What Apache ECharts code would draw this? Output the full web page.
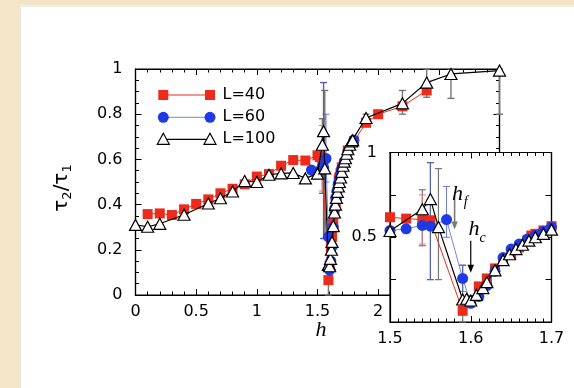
<!DOCTYPE html>
<html><head><meta charset="utf-8">
<script src="https://cdn.jsdelivr.net/npm/echarts@6/dist/echarts.min.js"></script>
<style>
html,body{margin:0;padding:0;width:574px;height:388px;overflow:hidden;background:#f3e5c6;}
#panel{position:absolute;left:19px;top:5px;width:555px;height:383px;background:#fff;border-left:2px solid #e6e6e6;border-top:2px solid #ececec;box-sizing:border-box;}
#chart{position:absolute;left:0;top:0;width:574px;height:388px;}
</style></head><body><div id="panel"></div><div id="chart"></div>
<script>
// ---- data: [h, tau2/tau1] ----
const L40 = [[0.1,0.358],[0.2,0.361],[0.3,0.354],[0.4,0.379],[0.5,0.403],[0.6,0.423],[0.7,0.45],[0.8,0.47],[0.9,0.49],[1.0,0.524],[1.1,0.535],[1.2,0.572],[1.3,0.597],[1.4,0.595],[1.5,0.618],[1.52,0.61],[1.54,0.604],[1.55,0.60],[1.59,0.066],[1.60,0.13],[1.61,0.21],[1.62,0.257],[1.63,0.316],[1.64,0.36],[1.65,0.40],[1.66,0.44],[1.67,0.48],[1.675,0.51],[1.68,0.52],[1.69,0.54],[1.70,0.565],[1.75,0.64],[1.8,0.68],[1.9,0.762],[2.0,0.80],[2.2,0.835],[2.4,0.905]];
const L60 = [[1.45,0.553],[1.5,0.54],[1.52,0.55],[1.54,0.57],[1.55,0.565],[1.57,0.604],[1.59,0.257],[1.60,0.11],[1.61,0.15],[1.62,0.215],[1.63,0.30],[1.64,0.38],[1.65,0.43],[1.66,0.46],[1.67,0.49],[1.68,0.51],[1.69,0.535],[1.70,0.56],[1.72,0.59],[1.75,0.635],[1.8,0.685]];
const L100 = [[0,0.31],[0.1,0.302],[0.2,0.315],[0.4,0.355],[0.6,0.405],[0.7,0.428],[0.8,0.458],[0.9,0.504],[1.0,0.50],[1.1,0.532],[1.2,0.538],[1.3,0.54],[1.4,0.516],[1.5,0.537],[1.54,0.665],[1.55,0.725],[1.56,0.56],[1.59,0.133],[1.595,0.137],[1.60,0.127],[1.607,0.16],[1.615,0.2],[1.62,0.235],[1.63,0.305],[1.64,0.365],[1.648,0.40],[1.656,0.43],[1.664,0.456],[1.672,0.48],[1.68,0.50],[1.69,0.52],[1.70,0.545],[1.71,0.572],[1.72,0.59],[1.73,0.605],[1.74,0.625],[1.75,0.645],[1.765,0.665],[1.78,0.68],[1.79,0.685],[1.9,0.783],[2.2,0.848],[2.4,0.94],[2.6,0.978],[3.0,0.993]];
// error bars: [h, low, high]
const ERR100 = [[1.54,0.45,0.78],[1.55,0.25,0.94],[1.56,0.25,0.905],[1.59,0.0,0.335],[1.9,0.765,0.80],[2.2,0.80,0.905],[2.4,0.875,1.0],[2.6,0.87,1.0],[3.0,0.8,1.0]];
const ERR60 = [[1.55,0.25,0.94],[1.57,0.5,0.80],[1.59,0.18,0.335]];
const ERR40 = [[1.54,0.46,0.75]];
// arrows: [h, vStart, vEnd]
const ARROWS = [[1.58,0.745,0.545],[1.60,0.48,0.29]];
const ARROW_COLORS = ['#7a7a7a','#000'];
const LEGEND = ['L=40','L=60','L=100'];

const RED='#ee2b1b', BLUE='#1d3ae6';
const FONT='DejaVu Sans';
const chart = echarts.init(document.getElementById('chart'), null, {renderer:'canvas'});

function inInset(d){ return d[0] >= 1.5-1e-9 && d[0] <= 1.7+1e-9; }

function xAx(grid, pos, min, max, interval, split, labels, fmt, z){
  return {type:'value', gridIndex:grid, position:pos, min:min, max:max, interval:interval, z:z,
    axisLine:{show:true, onZero:false, lineStyle:{color:'#000', width:1.2}},
    axisTick:{show:true, inside:true, length:6, lineStyle:{color:'#000', width:1}},
    minorTick:{show:split>1, splitNumber:split, length:3.5, lineStyle:{color:'#000', width:1}},
    splitLine:{show:false}, minorSplitLine:{show:false},
    axisLabel:{show:labels, margin:9, color:'#000', fontSize:16, fontFamily:FONT, formatter:fmt}};
}
function yAx(grid, pos, min, max, interval, split, labels, fmt, z){
  const a = xAx(grid, pos, min, max, interval, split, labels, fmt, z);
  a.axisLabel.margin = 13;
  return a;
}

function errSeries(data, xi, yi, color, width, z){
  return {type:'custom', xAxisIndex:xi, yAxisIndex:yi, z:z, silent:true, clip:false, animation:false,
    data:data, encode:{x:0, y:[1,2]},
    renderItem:function(params, api){
      const h=api.value(0), lo=api.value(1), hi=api.value(2);
      const p1=api.coord([h,lo]), p2=api.coord([h,hi]);
      const c=3.5, st={stroke:color, lineWidth:width};
      return {type:'group', children:[
        {type:'line', shape:{x1:p1[0],y1:p1[1],x2:p2[0],y2:p2[1]}, style:st},
        {type:'line', shape:{x1:p1[0]-c,y1:p1[1],x2:p1[0]+c,y2:p1[1]}, style:st},
        {type:'line', shape:{x1:p2[0]-c,y1:p2[1],x2:p2[0]+c,y2:p2[1]}, style:st}
      ]};
    }};
}

function arrowSeries(data, xi, yi, z){
  return {type:'custom', xAxisIndex:xi, yAxisIndex:yi, z:z, silent:true, clip:false, animation:false,
    data:data, encode:{x:0, y:[1,2]},
    renderItem:function(params, api){
      const h=api.value(0), v0=api.value(1), v1=api.value(2);
      const p1=api.coord([h,v0]), p2=api.coord([h,v1]);
      const col=ARROW_COLORS[params.dataIndex];
      const w = params.dataIndex===0 ? 1.6 : 1.2;
      return {type:'group', children:[
        {type:'line', shape:{x1:p1[0],y1:p1[1],x2:p2[0],y2:p2[1]-6}, style:{stroke:col, lineWidth:w}},
        {type:'polygon', shape:{points:[[p2[0]-3.2,p2[1]-8],[p2[0]+3.2,p2[1]-8],[p2[0],p2[1]]]}, style:{fill:col}}
      ]};
    }};
}

function lineSeries(name, data, xi, yi, kind, z){
  const s = {name:name, type:'line', xAxisIndex:xi, yAxisIndex:yi, data:data, z:z, clip:false, animation:false, silent:true};
  if(kind==='sq'){ s.symbol='rect'; s.symbolSize=10; s.itemStyle={color:RED}; s.lineStyle={color:RED,width:1}; }
  if(kind==='ci'){ s.symbol='circle'; s.symbolSize=11; s.itemStyle={color:BLUE}; s.lineStyle={color:'#5565d8',width:0.8}; }
  if(kind==='tr'){ s.symbol='triangle'; s.symbolSize=[12,11]; s.itemStyle={color:'#fff', borderColor:'#000', borderWidth:1.2}; s.lineStyle={color:'#000',width:1.2}; }
  return s;
}

const fmtMain = v => v > 2.01 ? '' : String(v);
const fmtInsetX = v => v.toFixed(1);
const fmtInsetY = v => (Math.abs(v-0.5)<1e-6 ? '0.5' : (Math.abs(v-1)<1e-6 ? '1' : ''));

// legend drawn as graphic (two symbols joined by a line)
const lgX1=163.3, lgX2=210, lgY=[95,117.3,139.3], lgTX=222.5;
function tri(cx,cy){ return [[cx-6,cy+5],[cx+6,cy+5],[cx,cy-6]]; }
const legendEls = [];
legendEls.push({type:'line', shape:{x1:lgX1,y1:lgY[0],x2:lgX2,y2:lgY[0]}, style:{stroke:RED,lineWidth:1}});
[lgX1,lgX2].forEach(x=>legendEls.push({type:'rect', shape:{x:x-5,y:lgY[0]-5,width:10,height:10}, style:{fill:RED}}));
legendEls.push({type:'line', shape:{x1:lgX1,y1:lgY[1],x2:lgX2,y2:lgY[1]}, style:{stroke:'#5565d8',lineWidth:0.8}});
[lgX1,lgX2].forEach(x=>legendEls.push({type:'circle', shape:{cx:x,cy:lgY[1],r:5.5}, style:{fill:BLUE}}));
legendEls.push({type:'line', shape:{x1:lgX1,y1:lgY[2],x2:lgX2,y2:lgY[2]}, style:{stroke:'#000',lineWidth:1.2}});
[lgX1,lgX2].forEach(x=>legendEls.push({type:'polygon', shape:{points:tri(x,lgY[2])}, style:{fill:'#fff',stroke:'#000',lineWidth:1.2}}));
LEGEND.forEach((t,i)=>legendEls.push({type:'text', x:lgTX, y:lgY[i], style:{text:t, fill:'#000', font:'16px "'+FONT+'"', verticalAlign:'middle', align:'left'}}));

const option = {
  animation:false,
  backgroundColor:'transparent',
  grid:[
    {left:135.5, top:69, width:364, height:226, show:true, borderColor:'#000', borderWidth:1.2, backgroundColor:'transparent', z:0},
    {left:390, top:152.5, width:161.5, height:169.5, show:true, borderColor:'#000', borderWidth:1.2, backgroundColor:'#fff', z:10}
  ],
  xAxis:[
    xAx(0,'bottom',0,3,0.5,5,true,fmtMain,1),
    xAx(0,'top',0,3,0.5,5,false,null,1),
    xAx(1,'bottom',1.5,1.7,0.1,10,true,fmtInsetX,11),
    xAx(1,'top',1.5,1.7,0.1,10,false,null,11)
  ],
  yAxis:[
    yAx(0,'left',0,1,0.2,4,true,v=>String(v),1),
    yAx(0,'right',0,1,0.2,4,false,null,1),
    yAx(1,'left',0,1,0.25,1,true,fmtInsetY,11),
    yAx(1,'right',0,1,0.25,1,false,null,11)
  ],
  series:[
    errSeries(ERR100,0,0,'#767676',1.4,2),
    errSeries(ERR60,0,0,'#4a58d0',0.8,2),
    errSeries(ERR40,0,0,'#d88080',1,2),
    lineSeries('L=40', L40, 0,0,'sq',3),
    lineSeries('L=60', L60, 0,0,'ci',4),
    lineSeries('L=100', L100, 0,0,'tr',5),
    errSeries(ERR100.filter(inInset),2,2,'#767676',1.2,12),
    errSeries(ERR60.filter(inInset),2,2,'#4a58d0',0.8,12),
    errSeries(ERR40.filter(inInset),2,2,'#d88080',1,12),
    lineSeries('L=40', L40.filter(inInset), 2,2,'sq',12),
    lineSeries('L=60', L60.filter(inInset), 2,2,'ci',13),
    lineSeries('L=100', L100.filter(inInset), 2,2,'tr',14),
    arrowSeries(ARROWS,2,2,15)
  ],
  graphic:[
    {type:'group', z:20, children:legendEls},
    {type:'text', z:20, x:62, y:188, rotation:Math.PI/2, style:{text:'{t|τ}{s|2}{t|/τ}{s|1}', align:'center', verticalAlign:'middle',
      rich:{t:{fontSize:20, fontFamily:FONT, fill:'#000', lineHeight:24}, s:{fontSize:13, fontFamily:FONT, fill:'#000', verticalAlign:'bottom', lineHeight:24}}}},
    {type:'text', z:20, x:321, y:330.5, style:{text:'h', font:'italic 22px "Liberation Serif"', fill:'#000', align:'center', verticalAlign:'middle'}},
    {type:'text', z:30, x:457.5, y:194, style:{text:'h', font:'italic 22px "Liberation Serif"', fill:'#000', align:'center', verticalAlign:'middle'}},
    {type:'text', z:30, x:465.8, y:202.5, style:{text:'f', font:'italic 14px "Liberation Serif"', fill:'#000', align:'center', verticalAlign:'middle'}},
    {type:'text', z:30, x:474, y:229, style:{text:'h', font:'italic 22px "Liberation Serif"', fill:'#000', align:'center', verticalAlign:'middle'}},
    {type:'text', z:30, x:482.5, y:238, style:{text:'c', font:'italic 14px "Liberation Serif"', fill:'#000', align:'center', verticalAlign:'middle'}}
  ]
};
chart.setOption(option);
</script>
</body></html>
